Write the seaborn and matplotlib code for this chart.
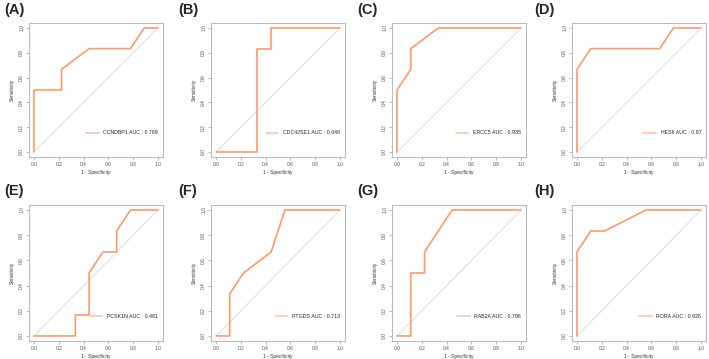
import numpy as np
import pandas as pd
import seaborn as sns
import matplotlib.pyplot as plt

# ROC curve points (1 - specificity, sensitivity)
genes = ["CCNDBP1", "CDC42SE1", "ERCC5", "HES6", "PCSK1N", "PTGDS", "RAB2A", "RORA"]
aucs = ["0.769", "0.648", "0.935", "0.87", "0.481", "0.713", "0.796", "0.926"]
letters = ["(A)", "(B)", "(C)", "(D)", "(E)", "(F)", "(G)", "(H)"]

fpr_a = [0, 0, 2/9, 2/9, 4/9, 7/9, 8/9, 1]
tpr_a = [0, 3/6, 3/6, 4/6, 5/6, 5/6, 1, 1]
fpr_b = [0, 3/9, 3/9, 4/9, 4/9, 1]
tpr_b = [0, 0, 5/6, 5/6, 1, 1]
fpr_c = [0, 0, 1/9, 1/9, 3/9, 1]
tpr_c = [0, 3/6, 4/6, 5/6, 1, 1]
fpr_d = [0, 0, 1/9, 6/9, 7/9, 1]
tpr_d = [0, 4/6, 5/6, 5/6, 1, 1]
fpr_e = [0, 3/9, 3/9, 4/9, 4/9, 5/9, 6/9, 6/9, 7/9, 1]
tpr_e = [0, 0, 1/6, 1/6, 3/6, 4/6, 4/6, 5/6, 1, 1]
fpr_f = [0, 1/9, 1/9, 2/9, 4/9, 5/9, 1]
tpr_f = [0, 0, 2/6, 3/6, 4/6, 1, 1]
fpr_g = [0, 1/9, 1/9, 2/9, 2/9, 4/9, 1]
tpr_g = [0, 0, 3/6, 3/6, 4/6, 1, 1]
fpr_h = [0, 0, 1/9, 2/9, 5/9, 1]
tpr_h = [0, 4/6, 5/6, 5/6, 1, 1]

curves = [(fpr_a, tpr_a), (fpr_b, tpr_b), (fpr_c, tpr_c), (fpr_d, tpr_d),
          (fpr_e, tpr_e), (fpr_f, tpr_f), (fpr_g, tpr_g), (fpr_h, tpr_h)]
ticks = [0.0, 0.2, 0.4, 0.6, 0.8, 1.0]

sns.set_style("white")
plt.rcParams['font.family'] = ['Liberation Sans', 'DejaVu Sans']

W, H = 709, 359
fig = plt.figure(figsize=(W / 100, H / 100), dpi=100)

# axes boxes in pixels (left, top, right, bottom)
col_left = [29, 211, 392, 572]
row_box = [(23, 157), (205, 341)]
letter_x = [4, 178, 357, 534]
letter_y = [3, 184]

for i, (fpr, tpr) in enumerate(curves):
    r, c = divmod(i, 4)
    top, bot = row_box[r]
    l = col_left[c]
    ax = fig.add_axes([l / W, 1 - bot / H, 134 / W, (bot - top) / H])
    ax.plot([0, 1], [0, 1], color="#dcdcdc", lw=0.7)
    df = pd.DataFrame({"fpr": fpr, "tpr": tpr})
    # keep the step points as they are (no aggregation of repeated x)
    sns.lineplot(data=df, x="fpr", y="tpr", sort=False, estimator=None, ax=ax,
                 color="#FF9966", lw=1.2, label=f"{genes[i]} AUC : {aucs[i]}")
    ax.set_xlim(-0.04, 1.04)
    ax.set_ylim(-0.04, 1.04)
    ax.set_xticks(ticks)
    ax.set_yticks(ticks)
    ax.set_xticklabels([f"{t:.1f}" for t in ticks], fontsize=3.5, color="#555555")
    ax.set_yticklabels([f"{t:.1f}" for t in ticks], fontsize=3.5, color="#555555",
                       rotation=90, va="center")
    ax.tick_params(length=2, width=0.4, color="#888888", pad=1.5,
                   bottom=True, left=True)
    ax.set_xlabel("1 - Specificity", fontsize=3.5, labelpad=2, color="#333333")
    ax.set_ylabel("Sensitivity", fontsize=3.5, labelpad=3, color="#333333")
    for s in ax.spines.values():
        s.set_color("#bbbbbb")
        s.set_linewidth(0.8)
    leg = ax.legend(loc="center right", bbox_to_anchor=(0.98, 0.18), frameon=False,
                    fontsize=3.8, handlelength=2.4, handletextpad=0.9, borderaxespad=0)
    for line in leg.get_lines():
        line.set_color("#FFC4A8")
    fig.text(letter_x[c] / W, 1 - letter_y[r] / H, letters[i], fontsize=10.5,
             fontweight="bold", va="top", ha="left")

fig.savefig("out.png", dpi=100)
